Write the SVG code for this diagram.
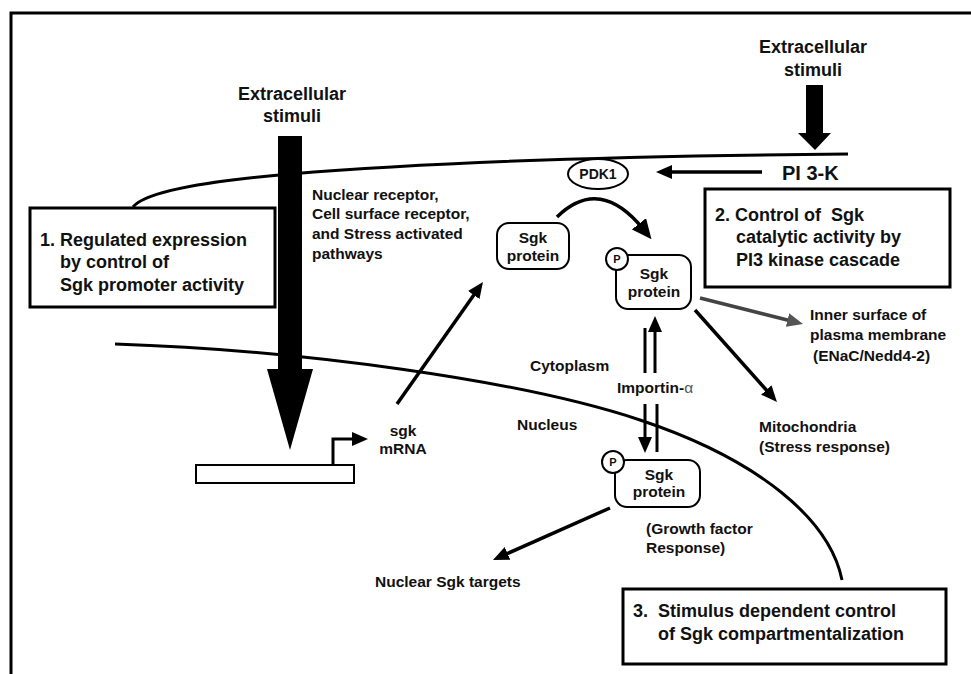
<svg xmlns="http://www.w3.org/2000/svg" width="971" height="674" viewBox="0 0 971 674">
<style>
text{font-family:"Liberation Sans",Arial,Helvetica,sans-serif;font-weight:bold;fill:#111}
.big{font-size:18px}
.lbl{font-size:15.5px}
.mid{text-anchor:middle}
.box{fill:#fff;stroke:#000;stroke-width:3}
.prot{fill:#fff;stroke:#000;stroke-width:2}
.mem{fill:none;stroke:#000;stroke-width:3}
.arr{fill:none;stroke:#000;stroke-width:3.5;marker-end:url(#ah)}
.pl{fill:none;stroke:#000;stroke-width:3}
</style>
<defs>
<marker id="ah" viewBox="0 0 16 14" refX="6" refY="7" markerWidth="16" markerHeight="14" markerUnits="userSpaceOnUse" orient="auto">
<path d="M0,0 L16,7 L0,14 z" fill="#000"/>
</marker>
<marker id="ahl" viewBox="0 0 20 18" refX="8" refY="9" markerWidth="20" markerHeight="18" markerUnits="userSpaceOnUse" orient="auto">
<path d="M0,0 L20,9 L0,18 z" fill="#000"/>
</marker>
<marker id="ahg" viewBox="0 0 16 14" refX="6" refY="7" markerWidth="16" markerHeight="14" markerUnits="userSpaceOnUse" orient="auto">
<path d="M0,0 L16,7 L0,14 z" fill="#555"/>
</marker>
</defs>
<rect width="971" height="674" fill="#fff"/>
<path d="M11,674 V13 H971" fill="none" stroke="#000" stroke-width="3"/>

<g id="membranes">
<path class="mem" d="M133,207 C145,192 200,182 290,174 C420,163 600,156 848,154"/>
<path class="mem" d="M115,344 C300,350 520,380 640,420 C760,460 830,520 842,580"/>
</g>

<g id="connectors">
<path class="arr" d="M762,172 H666"/>
<path class="arr" d="M397,404 L477.2,290.2"/>
<path d="M557,217 Q600,175 644,230" fill="none" stroke="#000" stroke-width="3.5" marker-end="url(#ahl)"/>
<path class="arr" d="M695,310 L770.3,394.5"/>
<path d="M700,298 L793.3,321.5" fill="none" stroke="#444" stroke-width="3.5" marker-end="url(#ahg)"/>
<path class="arr" d="M610,508 L502.1,555.9"/>
<path class="pl" d="M645,328 V373"/>
<path class="arr" d="M655,373 V326" style="stroke-width:3"/>
<path class="arr" d="M645,404 V443" style="stroke-width:3"/>
<path class="pl" d="M657,404 V452"/>
<path d="M333,465 V439 H358" fill="none" stroke="#000" stroke-width="3" marker-end="url(#ah)"/>
<polygon points="278,136 302,136 302,369 313,369 290,450 267,369 278,369" fill="#000"/>
<polygon points="806,85 823,85 823,133 831,133 815,150 798,133 806,133" fill="#000"/>
</g>

<g id="stimuli-left">
<text class="big mid" x="292" y="100">Extracellular</text>
<text class="big mid" x="292" y="122">stimuli</text>
</g>
<g id="stimuli-right">
<text class="big mid" x="813" y="53">Extracellular</text>
<text class="big mid" x="813" y="76">stimuli</text>
</g>

<g id="box1">
<rect class="box" x="30" y="208" width="245" height="99"/>
<text class="big" x="40" y="246">1. Regulated expression</text>
<text class="big" x="60" y="268">by control of</text>
<text class="big" x="60" y="291">Sgk promoter activity</text>
</g>

<g id="pathways">
<text class="lbl" x="312" y="199.5">Nuclear receptor,</text>
<text class="lbl" x="312" y="219">Cell surface receptor,</text>
<text class="lbl" x="312" y="238.5">and Stress activated</text>
<text class="lbl" x="312" y="259">pathways</text>
</g>

<g id="pi3k">
<text x="782" y="180" style="font-size:20px">PI 3-K</text>
</g>

<g id="pdk1">
<ellipse cx="598" cy="174" rx="30" ry="15" fill="#fff" stroke="#000" stroke-width="2"/>
<text class="mid" x="598" y="179" style="font-size:14px">PDK1</text>
</g>

<g id="box2">
<rect class="box" x="705" y="189" width="245" height="98"/>
<text class="big" x="715" y="221" style="white-space:pre">2. Control of  Sgk</text>
<text class="big" x="736" y="243">catalytic activity by</text>
<text class="big" x="736" y="266">PI3 kinase cascade</text>
</g>

<g id="sgk-protein">
<rect class="prot" x="497" y="223" width="72" height="46" rx="12"/>
<text class="lbl mid" x="533" y="243">Sgk</text>
<text class="lbl mid" x="533" y="261">protein</text>
</g>

<g id="p-sgk-cyto">
<rect class="prot" x="616" y="255" width="75" height="54" rx="12"/>
<circle cx="617" cy="259" r="11" fill="#fff" stroke="#000" stroke-width="2"/>
<text class="mid" x="617" y="263" style="font-size:11px">P</text>
<text class="lbl mid" x="654" y="279">Sgk</text>
<text class="lbl mid" x="654" y="297">protein</text>
</g>

<g id="p-sgk-nuc">
<rect class="prot" x="615" y="460" width="85" height="47" rx="12"/>
<circle cx="613" cy="462" r="11" fill="#fff" stroke="#000" stroke-width="2"/>
<text class="mid" x="613" y="466" style="font-size:11px">P</text>
<text class="lbl mid" x="659" y="480">Sgk</text>
<text class="lbl mid" x="659" y="497">protein</text>
</g>

<g id="gene">
<rect x="196" y="465" width="158" height="18" fill="#fff" stroke="#000" stroke-width="2"/>
</g>

<g id="mrna">
<text class="lbl mid" x="403" y="436">sgk</text>
<text class="lbl mid" x="403" y="454">mRNA</text>
</g>

<g id="labels">
<text class="lbl" x="530" y="371">Cytoplasm</text>
<text class="lbl" x="617" y="393">Importin-<tspan style="font-weight:normal;fill:#555">α</tspan></text>
<text class="lbl" x="517" y="430">Nucleus</text>
</g>

<g id="inner-surface">
<text class="lbl" x="810" y="320">Inner surface of</text>
<text class="lbl" x="810" y="340">plasma membrane</text>
<text class="lbl" x="813" y="361">(ENaC/Nedd4-2)</text>
</g>

<g id="mitochondria">
<text class="lbl" x="759" y="432">Mitochondria</text>
<text class="lbl" x="759" y="452">(Stress response)</text>
</g>

<g id="growth">
<text class="lbl" x="646" y="534">(Growth factor</text>
<text class="lbl" x="646" y="553">Response)</text>
</g>

<g id="nuclear-targets">
<text class="lbl" x="375" y="587">Nuclear Sgk targets</text>
</g>

<g id="box3">
<rect class="box" x="623" y="589" width="323" height="75"/>
<text class="big" x="633" y="617">3.<tspan x="658">Stimulus dependent control</tspan></text>
<text class="big" x="658" y="640">of Sgk compartmentalization</text>
</g>
</svg>
